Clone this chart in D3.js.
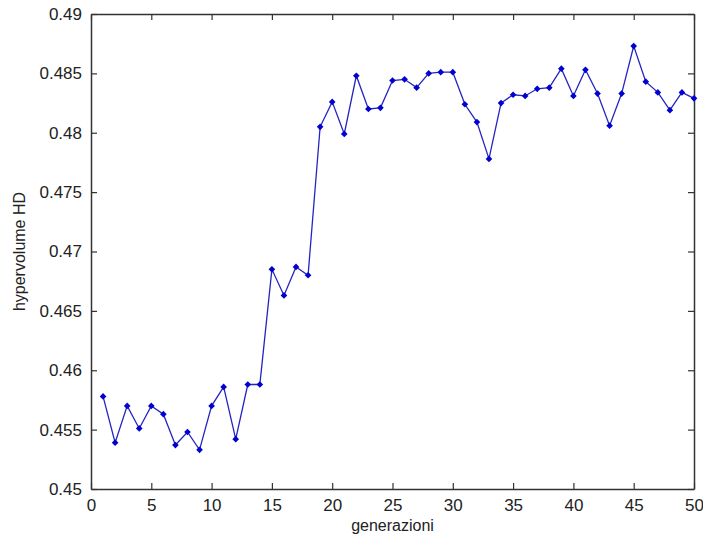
<!DOCTYPE html>
<html>
<head>
<meta charset="utf-8">
<script src="https://cdn.jsdelivr.net/npm/d3@7"></script>
<style>
  body { margin: 0; background: #fff; }
  svg text { font-family: 'Liberation Sans', Arial, sans-serif; fill: #222; }
  .axis path, .axis line { stroke: #333; }
</style>
</head>
<body>
<div id="chart"></div>
<script>
var generazioni = [1, 2, 3, 4, 5, 6, 7, 8, 9, 10, 11, 12, 13, 14, 15, 16, 17, 18, 19, 20,
  21, 22, 23, 24, 25, 26, 27, 28, 29, 30, 31, 32, 33, 34, 35, 36, 37, 38, 39, 40,
  41, 42, 43, 44, 45, 46, 47, 48, 49, 50]
var hypervolume = [0.4578, 0.4539, 0.4570, 0.4551, 0.4570, 0.4563, 0.4537, 0.4548, 0.4533, 0.4570,
  0.4586, 0.4542, 0.4588, 0.4588, 0.4685, 0.4663, 0.4687, 0.4680, 0.4805, 0.4826,
  0.4799, 0.4848, 0.4820, 0.4821, 0.4844, 0.4845, 0.4838, 0.4850, 0.4851, 0.4851,
  0.4824, 0.4809, 0.4778, 0.4825, 0.4832, 0.4831, 0.4837, 0.4838, 0.4854, 0.4831,
  0.4853, 0.4833, 0.4806, 0.4833, 0.4873, 0.4843, 0.4834, 0.4819, 0.4834, 0.4829]
var xTicks = [0, 5, 10, 15, 20, 25, 30, 35, 40, 45, 50]
var yTicks = [0.45, 0.455, 0.46, 0.465, 0.47, 0.475, 0.48, 0.485, 0.49]

var width = 703
var height = 544
var margin = {top: 14, right: 9, bottom: 55, left: 91}

var svg = d3.select('#chart').append('svg')
  .attr('width', width)
  .attr('height', height)

var x = d3.scaleLinear().domain([0, 50]).range([margin.left, width - margin.right])
var y = d3.scaleLinear().domain([0.45, 0.49]).range([height - margin.bottom, margin.top])

var fmt = function(d) { return String(+d.toFixed(3)) }

// bottom axis with labels, ticks inward
svg.append('g')
  .attr('class', 'axis')
  .attr('transform', 'translate(0,' + y(0.45) + ')')
  .call(d3.axisBottom(x).tickValues(xTicks).tickSizeInner(-6).tickSizeOuter(0).tickPadding(10))
  .call(function(g) { g.selectAll('text').attr('font-size', 17) })

// top axis, ticks only
svg.append('g')
  .attr('class', 'axis')
  .attr('transform', 'translate(0,' + y(0.49) + ')')
  .call(d3.axisTop(x).tickValues(xTicks).tickSizeInner(-6).tickSizeOuter(0).tickFormat(''))

// left axis
svg.append('g')
  .attr('class', 'axis')
  .attr('transform', 'translate(' + x(0) + ',0)')
  .call(d3.axisLeft(y).tickValues(yTicks).tickSizeInner(-6).tickSizeOuter(0).tickPadding(9).tickFormat(fmt))
  .call(function(g) { g.selectAll('text').attr('font-size', 17) })

// right axis, ticks only
svg.append('g')
  .attr('class', 'axis')
  .attr('transform', 'translate(' + x(50) + ',0)')
  .call(d3.axisRight(y).tickValues(yTicks).tickSizeInner(-6).tickSizeOuter(0).tickFormat(''))

svg.selectAll('.axis path').attr('stroke-width', 1.5)
svg.selectAll('.axis line').attr('stroke-width', 1.2)
svg.selectAll('.axis text').attr('fill', '#222')

var data = generazioni.map(function(g, i) { return {g: g, v: hypervolume[i]} })

var line = d3.line()
  .x(function(d) { return x(d.g) })
  .y(function(d) { return y(d.v) })

svg.append('path')
  .datum(data)
  .attr('fill', 'none')
  .attr('stroke', '#2424c0')
  .attr('stroke-width', 1.3)
  .attr('d', line)

// small rotated squares as markers
svg.selectAll('.marker')
  .data(data)
  .enter()
  .append('path')
  .attr('class', 'marker')
  .attr('d', d3.symbol().type(d3.symbolSquare).size(22))
  .attr('transform', function(d) { return 'translate(' + x(d.g) + ',' + y(d.v) + ')rotate(45)' })
  .attr('fill', '#0000d0')

// axis labels
svg.append('text')
  .attr('x', (x(0) + x(50)) / 2)
  .attr('y', 531)
  .attr('text-anchor', 'middle')
  .attr('font-size', 16)
  .text('generazioni')

svg.append('text')
  .attr('transform', 'translate(25,' + (y(0.45) + y(0.49)) / 2 + ')rotate(-90)')
  .attr('text-anchor', 'middle')
  .attr('font-size', 16)
  .text('hypervolume HD')
</script>
</body>
</html>
